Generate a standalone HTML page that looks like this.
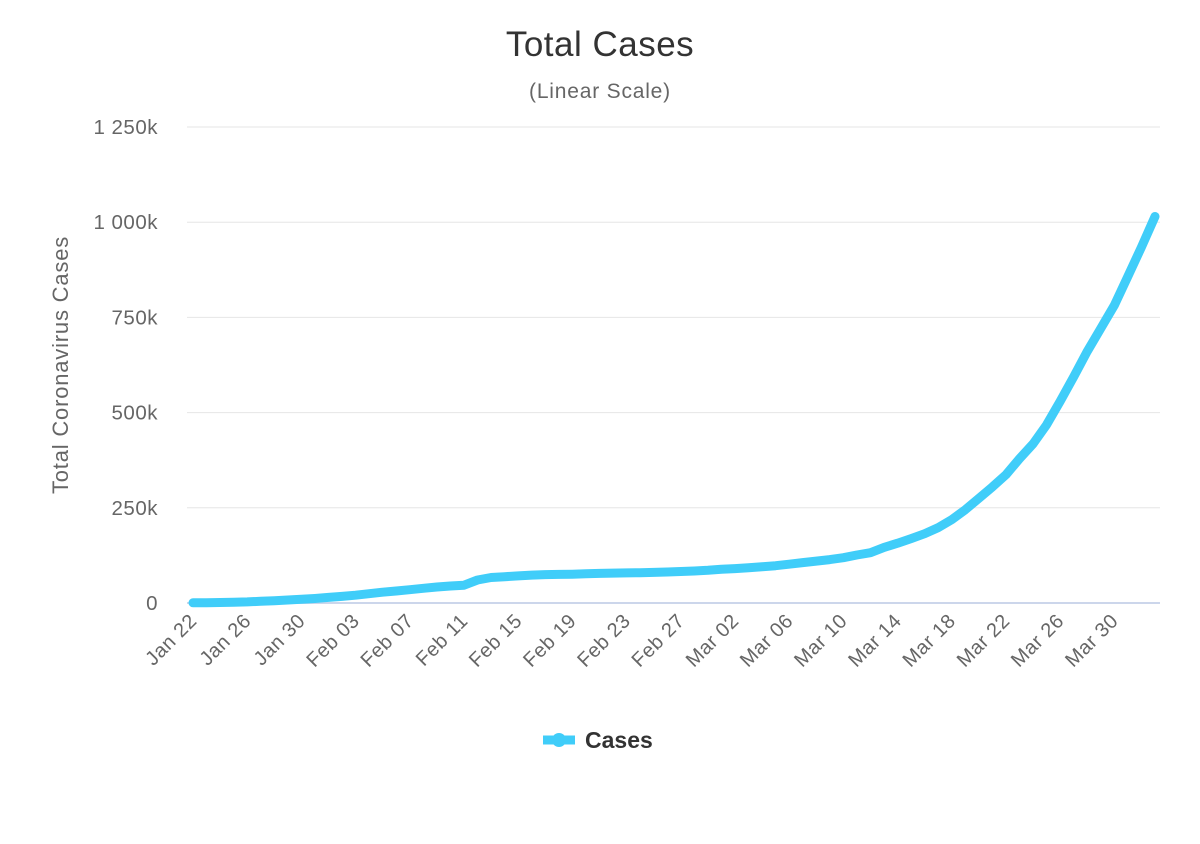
<!DOCTYPE html>
<html><head><meta charset="utf-8"><style>
html,body{margin:0;padding:0;background:#fff;}
svg text{font-family:"Liberation Sans",sans-serif;}
</style></head><body>
<svg id="c" width="1200" height="839" xmlns="http://www.w3.org/2000/svg">
<text x="600" y="56" text-anchor="middle" font-size="35" fill="#333" letter-spacing="0.5">Total Cases</text>
<text x="600" y="98" text-anchor="middle" font-size="21" fill="#666" letter-spacing="0.8">(Linear Scale)</text>
<text transform="translate(68,365) rotate(-90)" text-anchor="middle" font-size="22" fill="#666" letter-spacing="0.8">Total Coronavirus Cases</text>
<g id="grid"></g>
<g id="xl"></g>
<path id="ln" fill="none" stroke="#40CDF9" stroke-width="9" stroke-linejoin="round" stroke-linecap="round"/>
<path d="M543 740 H575" stroke="#40CDF9" stroke-width="9"/>
<circle cx="559" cy="740" r="7" fill="#40CDF9"/>
<text x="585" y="748" font-size="23" font-weight="bold" fill="#333">Cases</text>
</svg>
<script>
var ns="http://www.w3.org/2000/svg";
function el(p,t,a,txt){var e=document.createElementNS(ns,t);for(var k in a)e.setAttribute(k,a[k]);if(txt)e.textContent=txt;p.appendChild(e);return e;}
var g=document.getElementById('grid');
var labs=["0","250k","500k","750k","1 000k","1 250k"];
for(var i=0;i<6;i++){var y=603-i*95.2;
 el(g,'line',{x1:187,x2:1160,y1:y,y2:y,stroke:i?'#e6e6e6':'#ccd6eb','stroke-width':i?1:2});
 el(g,'text',{x:158,y:y+7,'text-anchor':'end','font-size':20.5,fill:'#666','letter-spacing':0.5},labs[i]);}
var d=[0.58,0.85,1.3,2.0,2.9,4.5,6.1,7.8,9.8,11.9,14.6,17.4,20.6,24.5,28.3,31.5,34.9,38.6,42.1,44.6,46.8,60.4,66.9,69.0,71.2,73.3,75.0,75.7,76.7,77.8,78.6,79.0,79.5,80.4,81.4,82.7,84.1,86.0,88.4,90.3,92.8,95.3,98.0,102,106,110,114,119,126,132,146,157,169,182,198,219,245,275,305,337,379,418,468,530,594,661,721,782,858,935,1015];
d.splice(26,0,74.5);
var x0=193,dx=(1155-193)/71,p="";
for(var i=0;i<d.length;i++){p+=(i?"L":"M")+(x0+i*dx).toFixed(1)+" "+(603-d[i]*0.3808).toFixed(1);}
document.getElementById('ln').setAttribute('d',p);
var names=["Jan 22","Jan 26","Jan 30","Feb 03","Feb 07","Feb 11","Feb 15","Feb 19","Feb 23","Feb 27","Mar 02","Mar 06","Mar 10","Mar 14","Mar 18","Mar 22","Mar 26","Mar 30"];
var xl=document.getElementById('xl');
for(var i=0;i<names.length;i++){var x=x0+i*4*dx+5;
 el(xl,'text',{transform:'translate('+x+',622) rotate(-45)','text-anchor':'end','font-size':20,fill:'#666','letter-spacing':0.5},names[i]);}
</script>
</body></html>
